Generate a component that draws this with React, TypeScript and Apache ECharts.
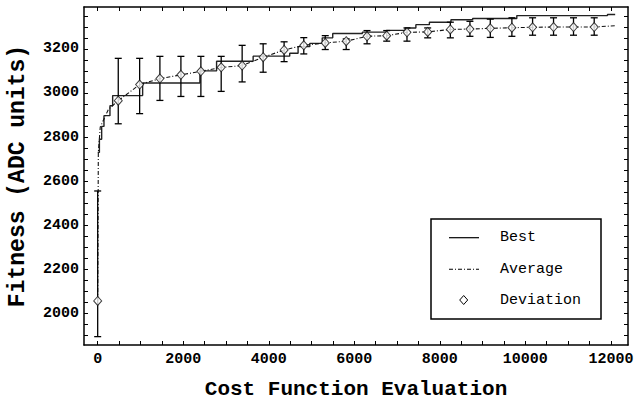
import React, { useEffect, useRef } from "react";
import * as echarts from "echarts";

// ---- Data ----
const bestX = [0, 40, 93, 147, 287, 350, 1051, 2390, 2780, 3635, 4490, 4686, 4960, 5250, 5496, 6190, 6750, 7190, 7440, 7756, 8260, 8767, 9800, 11920, 12100];
const bestY = [2730, 2790, 2848, 2897, 2942, 2988, 3045, 3100, 3144, 3167, 3180, 3210, 3225, 3250, 3270, 3276, 3284, 3295, 3310, 3321, 3332, 3338, 3351, 3356, 3356];

const devX = [0, 481, 981, 1455, 1946, 2413, 2888, 3378, 3869, 4359, 4819, 5321, 5811, 6298, 6758, 7232, 7716, 8246, 8704, 9180, 9685, 10169, 10659, 11126, 11610];
const devMean = [2056, 2965, 3038, 3065, 3082, 3098, 3116, 3124, 3162, 3195, 3216, 3227, 3235, 3257, 3260, 3275, 3277, 3288, 3290, 3293, 3296, 3298, 3299, 3299, 3299];
const devLow = [1894, 2860, 2906, 2966, 2984, 2984, 3007, 3050, 3094, 3142, 3177, 3197, 3197, 3223, 3235, 3235, 3250, 3250, 3257, 3252, 3257, 3262, 3262, 3262, 3262];
const devHigh = [2555, 3157, 3157, 3166, 3166, 3166, 3166, 3216, 3223, 3232, 3251, 3260, 3245, 3283, 3283, 3295, 3295, 3321, 3325, 3335, 3341, 3341, 3341, 3341, 3341];

const avgX = [0, 15, 60, 250, 481, 981, 1455, 1946, 2413, 2888, 3378, 3869, 4359, 4819, 5321, 5811, 6298, 6758, 7232, 7716, 8246, 8704, 9180, 9685, 10169, 10659, 11126, 11610, 12100];
const avgY = [2056, 2730, 2845, 2925, 2965, 3038, 3065, 3082, 3098, 3116, 3124, 3162, 3195, 3216, 3227, 3235, 3257, 3260, 3275, 3277, 3288, 3290, 3293, 3296, 3298, 3299, 3299, 3299, 3305];

const xTickValues = [0, 500, 1000, 1500, 2000, 2500, 3000, 3500, 4000, 4500, 5000, 5500, 6000, 6500, 7000, 7500, 8000, 8500, 9000, 9500, 10000, 10500, 11000, 11500, 12000];
const xLabelValues = [0, 2000, 4000, 6000, 8000, 10000, 12000];
const yTickValues = [1900, 1950, 2000, 2050, 2100, 2150, 2200, 2250, 2300, 2350, 2400, 2450, 2500, 2550, 2600, 2650, 2700, 2750, 2800, 2850, 2900, 2950, 3000, 3050, 3100, 3150, 3200, 3250, 3300, 3350];
const yLabelValues = [2000, 2200, 2400, 2600, 2800, 3000, 3200];

const legendNames = ["Best", "Average", "Deviation"];

const FONT = "'Liberation Mono', 'DejaVu Sans Mono', monospace";

export default function App() {
  const ref = useRef<HTMLDivElement>(null);

  useEffect(() => {
    document.body.style.margin = "0";
    const chart = echarts.init(ref.current!, null, { renderer: "svg" });

    const bestData = bestX.map((x, i) => [x, bestY[i]]);
    const avgData = avgX.map((x, i) => [x, avgY[i]]);
    const devPoints = devX.map((x, i) => [x, devMean[i]]);
    const devBars = devX.map((x, i) => [x, devLow[i], devHigh[i]]);

    const xBase = {
      type: "value",
      min: -320,
      max: 12400,
      splitLine: { show: false },
      axisLine: { show: true, onZero: false, lineStyle: { color: "#000", width: 1.5 } },
      axisTick: { show: true, inside: true, length: 4, customValues: xTickValues, lineStyle: { color: "#000", width: 1 } },
    };
    const yBase = {
      type: "value",
      min: 1856,
      max: 3390,
      splitLine: { show: false },
      axisLine: { show: true, onZero: false, lineStyle: { color: "#000", width: 1.5 } },
      axisTick: { show: true, inside: true, length: 4, customValues: yTickValues, lineStyle: { color: "#000", width: 1 } },
    };

    const legendLeft = 431;
    const legendTop = 219;
    const rowY = [237.7, 269.3, 300];

    chart.setOption({
      animation: false,
      backgroundColor: "#fff",
      grid: { left: 84, right: 10, top: 7, bottom: 56, containLabel: false, outerBoundsMode: "none" },
      xAxis: [
        {
          ...xBase,
          position: "bottom",
          axisLabel: {
            show: true,
            customValues: xLabelValues,
            formatter: (v: number) => String(v),
            color: "#000",
            fontFamily: FONT,
            fontWeight: "bold",
            fontSize: 15,
            margin: 7,
          },
          name: "Cost Function Evaluation",
          nameLocation: "middle",
          nameGap: 34,
          nameMoveOverlap: false,
          nameTextStyle: { color: "#000", fontFamily: FONT, fontWeight: "bold", fontSize: 21 },
        },
        { ...xBase, position: "top", axisLabel: { show: false } },
      ],
      yAxis: [
        {
          ...yBase,
          position: "left",
          axisLabel: {
            show: true,
            customValues: yLabelValues,
            formatter: (v: number) => String(v),
            color: "#000",
            fontFamily: FONT,
            fontWeight: "bold",
            fontSize: 15,
            margin: 5,
          },
          name: "Fitness (ADC units)",
          nameLocation: "middle",
          nameGap: 55,
          nameMoveOverlap: false,
          nameTextStyle: { color: "#000", fontFamily: FONT, fontWeight: "bold", fontSize: 23 },
        },
        { ...yBase, position: "right", axisLabel: { show: false } },
      ],
      series: [
        {
          name: "Best",
          type: "line",
          step: "end",
          data: bestData,
          showSymbol: false,
          symbol: "none",
          lineStyle: { color: "#222", width: 1.4 },
          z: 3,
        },
        {
          name: "Average",
          type: "line",
          data: avgData,
          showSymbol: false,
          symbol: "none",
          lineStyle: { color: "#111", width: 1.1, type: [4, 2, 1, 2] },
          z: 4,
        },
        {
          name: "DeviationBars",
          type: "custom",
          data: devBars,
          encode: { x: 0, y: [1, 2] },
          renderItem: (params: any, api: any) => {
            const x = api.value(0);
            const lo = api.coord([x, api.value(1)]);
            const hi = api.coord([x, api.value(2)]);
            const w = 3.5;
            const st = { stroke: "#000", lineWidth: 1.3 };
            return {
              type: "group",
              children: [
                { type: "line", shape: { x1: lo[0], y1: lo[1], x2: hi[0], y2: hi[1] }, style: st },
                { type: "line", shape: { x1: lo[0] - w, y1: lo[1], x2: lo[0] + w, y2: lo[1] }, style: st },
                { type: "line", shape: { x1: hi[0] - w, y1: hi[1], x2: hi[0] + w, y2: hi[1] }, style: st },
              ],
            };
          },
          z: 5,
        },
        {
          name: "Deviation",
          type: "scatter",
          data: devPoints,
          symbol: "diamond",
          symbolSize: [8, 9],
          itemStyle: { color: "#fff", borderColor: "#111", borderWidth: 1 },
          z: 6,
        },
      ],
      graphic: [
        {
          type: "rect",
          shape: { x: legendLeft, y: legendTop, width: 170, height: 100 },
          style: { fill: "#fff", stroke: "#000", lineWidth: 1.5 },
          z: 10,
        },
        {
          type: "line",
          shape: { x1: 449, y1: rowY[0], x2: 479, y2: rowY[0] },
          style: { stroke: "#000", lineWidth: 1.2 },
          z: 11,
        },
        {
          type: "line",
          shape: { x1: 449, y1: rowY[1], x2: 479, y2: rowY[1] },
          style: { stroke: "#000", lineWidth: 1.1, lineDash: [4, 2, 1, 2] },
          z: 11,
        },
        {
          type: "polygon",
          shape: { points: [[463.7, rowY[2] - 4.5], [467.7, rowY[2]], [463.7, rowY[2] + 4.5], [459.7, rowY[2]]] },
          style: { fill: "#fff", stroke: "#000", lineWidth: 1 },
          z: 11,
        },
        ...legendNames.map((n, i) => ({
          type: "text",
          x: 500,
          y: rowY[i],
          style: {
            text: n,
            fill: "#000",
            font: `15px ${FONT}`,
            textVerticalAlign: "middle",
            verticalAlign: "middle",
            textAlign: "left",
          },
          z: 11,
        })),
      ],
    });

    return () => chart.dispose();
  }, []);

  return <div ref={ref} style={{ width: 638, height: 401 }} />;
}
